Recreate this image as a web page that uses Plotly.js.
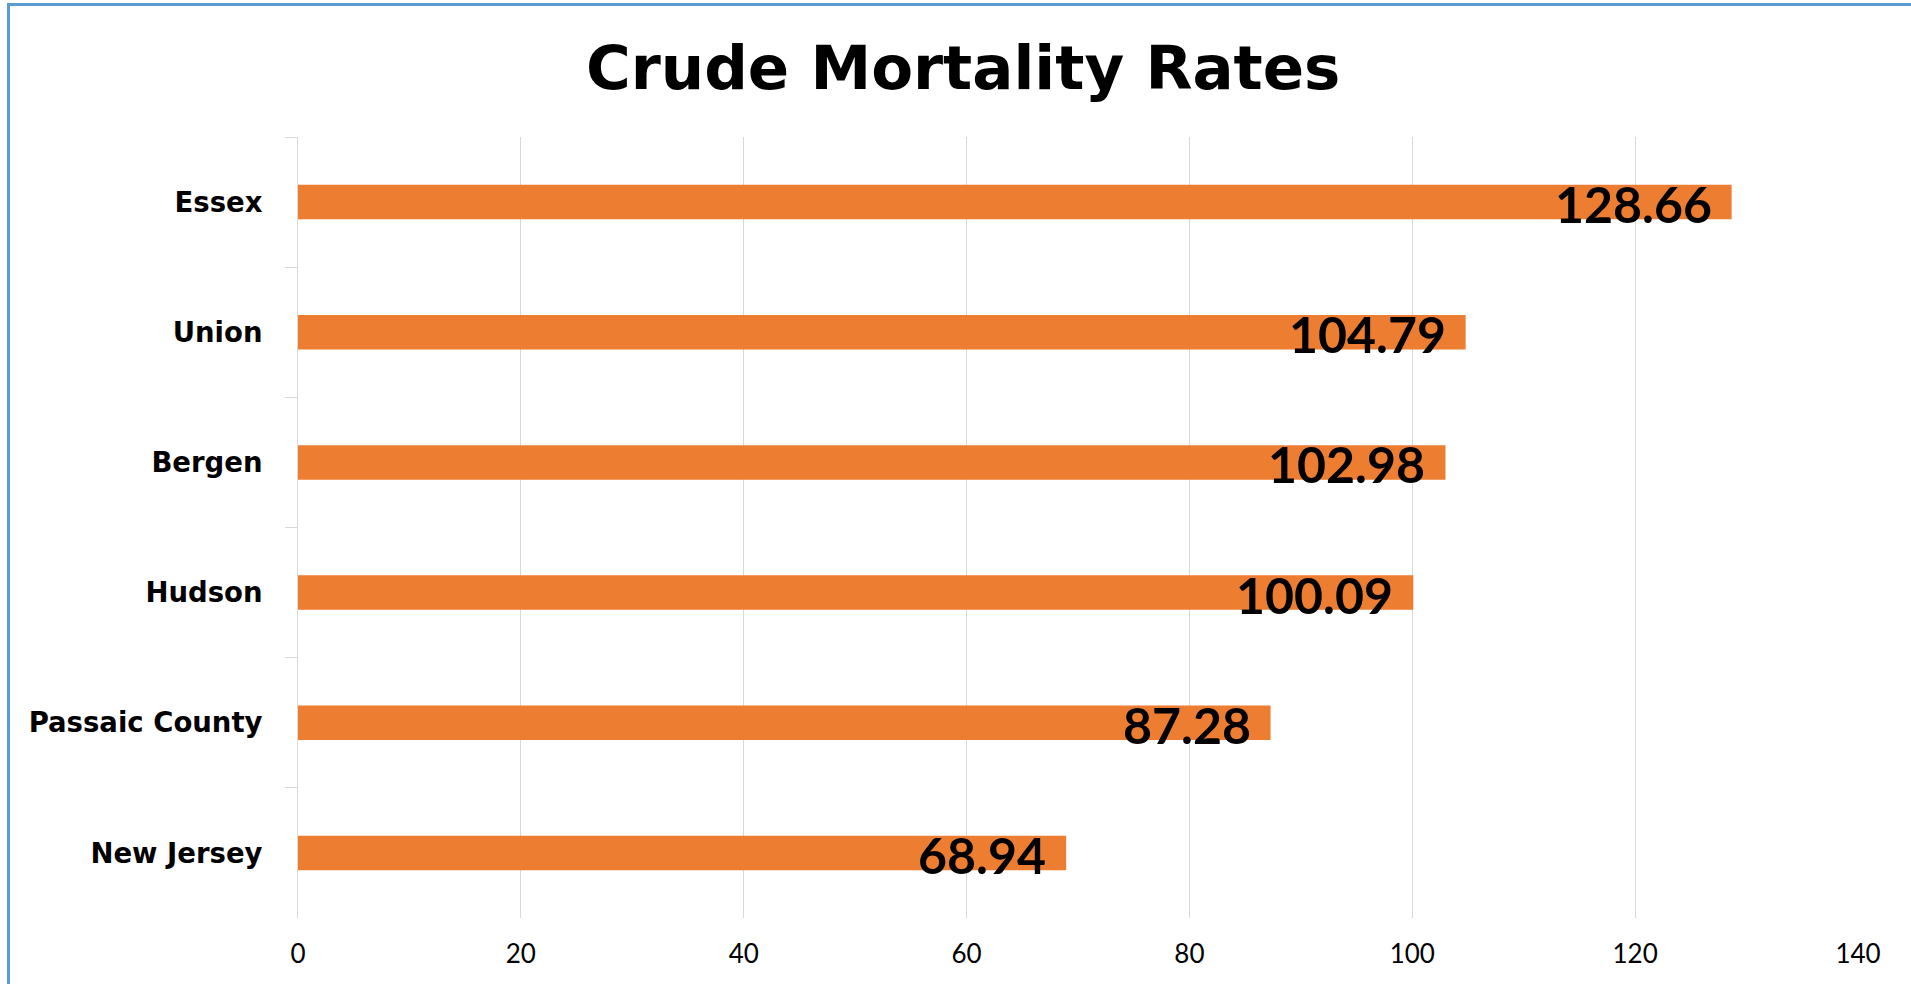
<!DOCTYPE html>
<html>
<head>
<meta charset="utf-8">
<script src="https://cdn.plot.ly/plotly-3.0.1.min.js"></script>
<style>
  body { margin: 0; background: #fff; }
  #chart { position: absolute; left: 0; top: 0; width: 1911px; height: 984px; }
  #frame { position: absolute; left: 7px; top: 3px; width: 1910px; height: 990px;
           border-left: 3px solid #5b9bd5; border-top: 3px solid #5b9bd5; pointer-events: none; }
</style>
</head>
<body>
<div id="chart"></div>
<div id="frame"></div>
<script>
// counties, top to bottom
var counties = ["Essex", "Union", "Bergen", "Hudson", "Passaic County", "New Jersey"];
var rates = [128.66, 104.79, 102.98, 100.09, 87.28, 68.94];
var xTicks = [0, 20, 40, 60, 80, 100, 120, 140];

var trace = {
    x: rates,
    y: counties,
    type: "bar",
    orientation: "h",
    width: 0.265,
    marker: {color: "#ed7d31"},
    hoverinfo: "x+y"
};

// value labels sit inside the bar end
var labels = rates.map(function (v, i) {
    return {
        x: v, y: counties[i], xref: "x", yref: "y",
        text: v.toFixed(2), showarrow: false,
        xanchor: "right", yanchor: "middle",
        xshift: -18, yshift: -2,
        font: {family: "Lato, 'Open Sans', sans-serif", size: 50, color: "#000", weight: "bold"}
    };
});

var layout = {
    width: 1911,
    height: 984,
    margin: {l: 298, r: 53, t: 137, b: 66},
    paper_bgcolor: "#fff",
    plot_bgcolor: "#fff",
    showlegend: false,
    title: {
        text: "<b>Crude Mortality Rates</b>",
        font: {family: "'DejaVu Sans', sans-serif", size: 61, color: "#000"},
        x: 0.504, xref: "container", xanchor: "center",
        y: 1 - 68 / 984, yref: "container", yanchor: "middle"
    },
    xaxis: {
        range: [0, 140],
        tickvals: xTicks,
        showgrid: true,
        gridcolor: "#d9d9d9",
        gridwidth: 1,
        zeroline: false,
        showline: false,
        ticks: "",
        ticklabelstandoff: 18,
        tickfont: {family: "Lato, 'Open Sans', sans-serif", size: 26, color: "#000"}
    },
    yaxis: {
        autorange: "reversed",
        type: "category",
        showgrid: false,
        zeroline: false,
        showline: true,
        linecolor: "#d9d9d9",
        linewidth: 1,
        ticks: "outside",
        tickson: "boundaries",
        ticklen: 12,
        tickcolor: "#d9d9d9",
        ticklabelstandoff: 29,
        tickfont: {family: "'DejaVu Sans', sans-serif", size: 27.5, color: "#000", weight: "bold"}
    },
    annotations: labels
};

Plotly.newPlot("chart", [trace], layout, {displayModeBar: false, staticPlot: true});
</script>
</body>
</html>
